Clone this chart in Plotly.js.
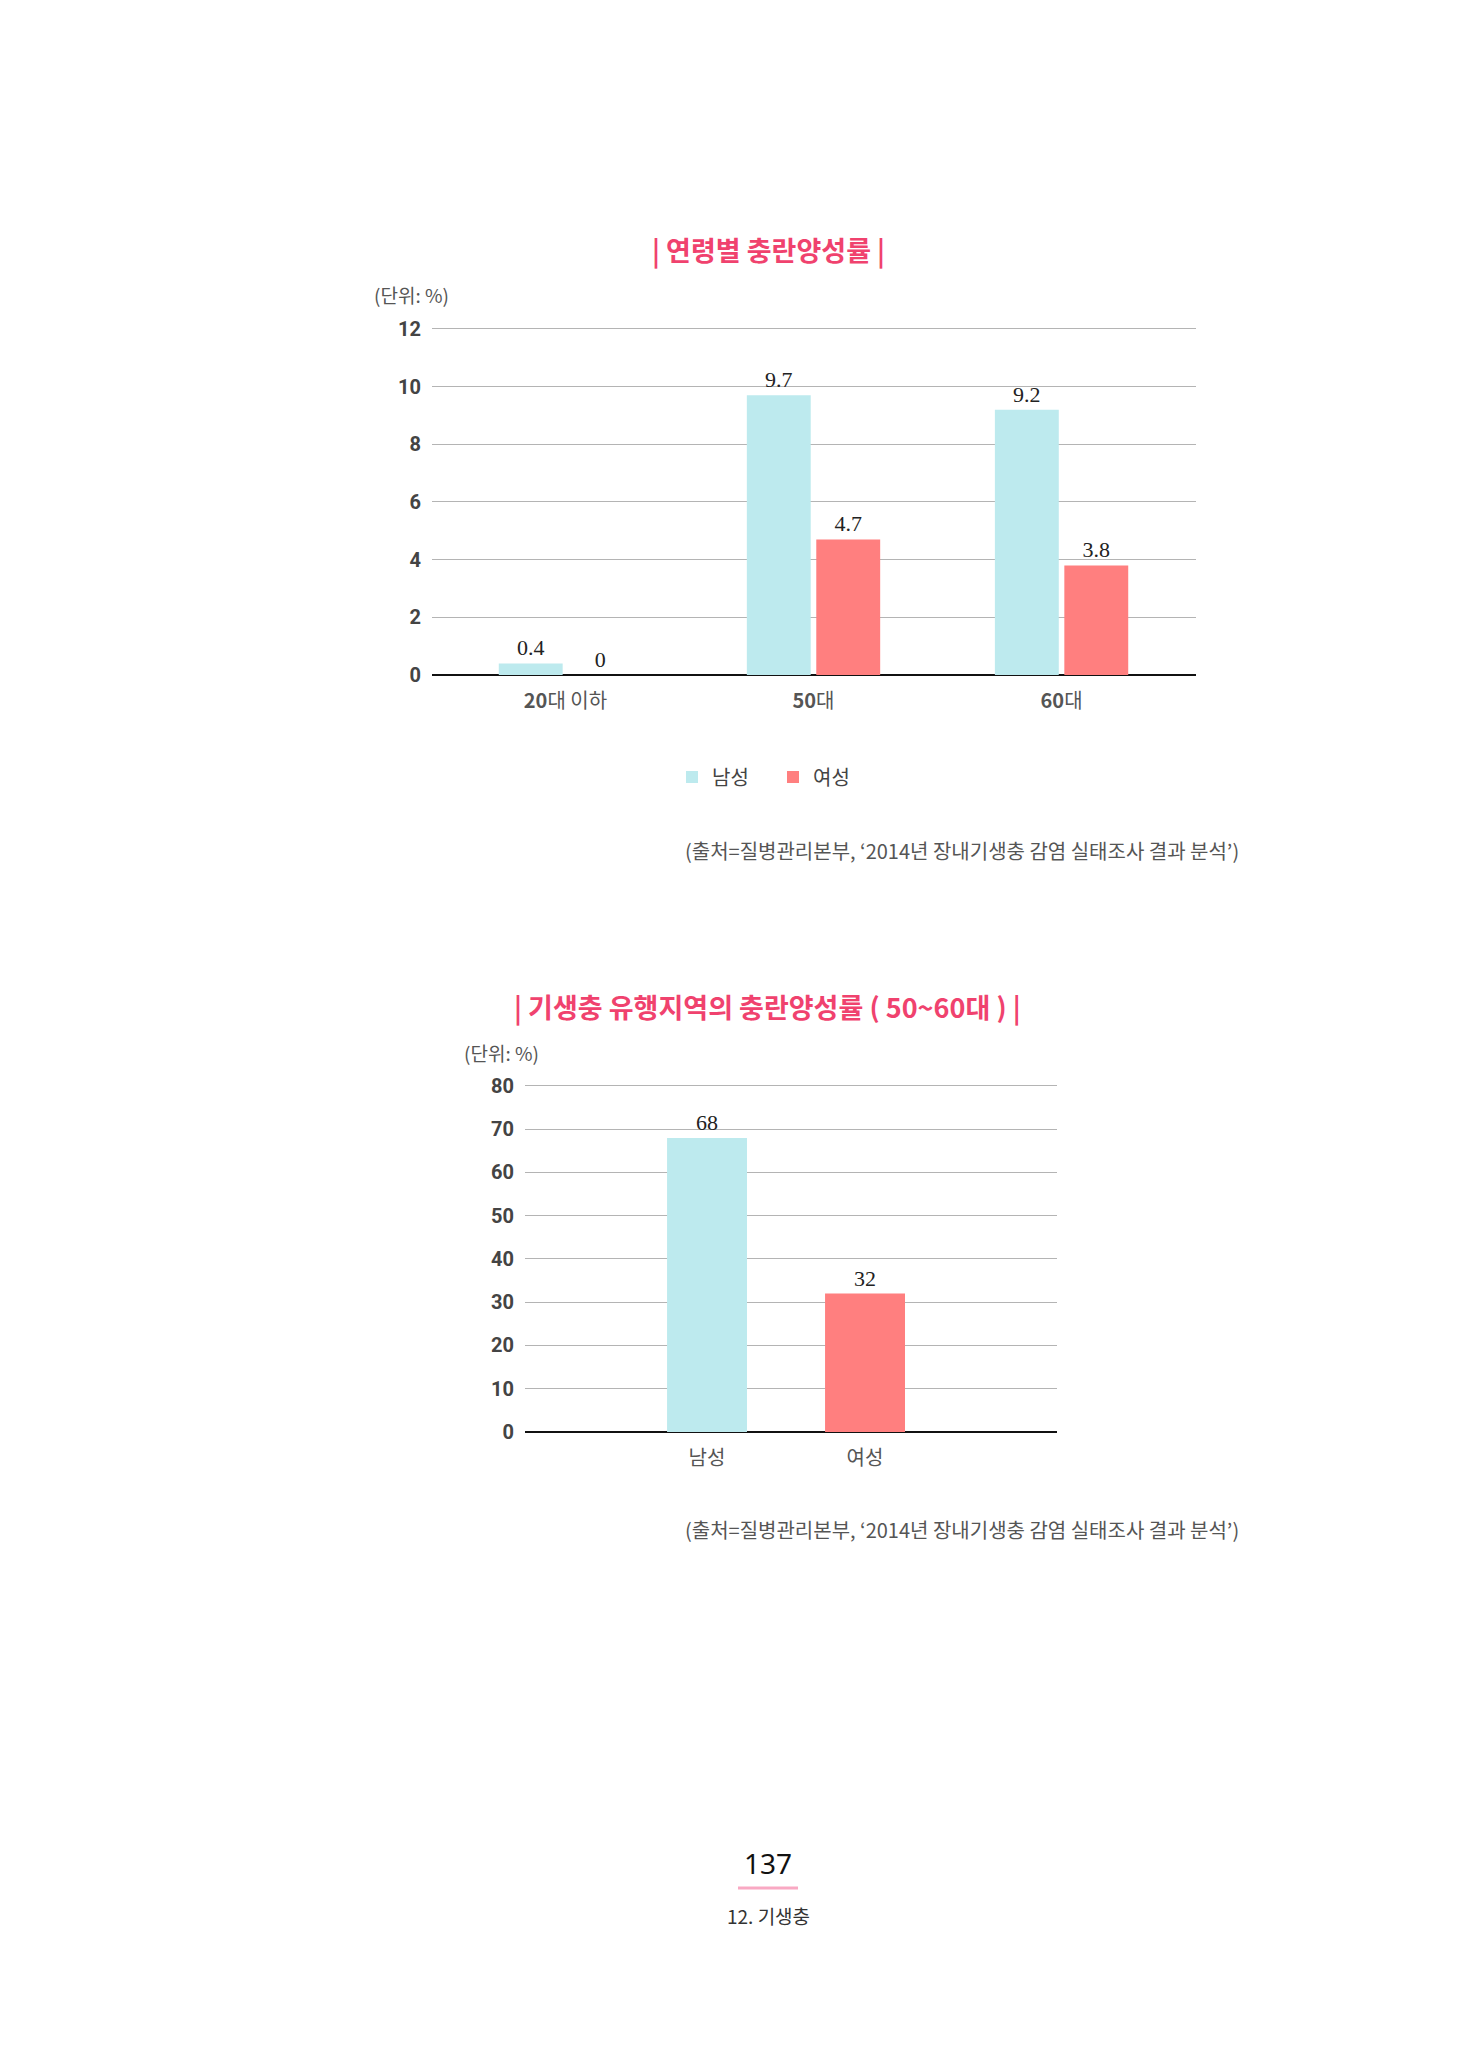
<!DOCTYPE html>
<html>
<head>
<meta charset="utf-8">
<script src="https://cdn.plot.ly/plotly-3.0.1.min.js"></script>
<style>
  html, body { margin: 0; padding: 0; background: #fff; }
  #page { width: 1481px; height: 2071px; }
</style>
</head>
<body>
<div id="page"></div>
<script>
// chart 1: age groups
const ageGroups = ['20대 이하', '50대', '60대'];
const ageTicks = ['<b>20</b>대 이하', '<b>50</b>대', '<b>60</b>대'];
const maleRate = [0.4, 9.7, 9.2];
const femaleRate = [0, 4.7, 3.8];

// chart 2: endemic area, 50~60s
const sexGroups = ['남성', '여성'];
const endemicRate = [68, 32];

const blue = '#BDEAEE';
const red = '#FF7F7F';
const pink = '#F0426E';
const source = '(출처=질병관리본부, ‘2014년 장내기생충 감염 실태조사 결과 분석’)';

// page is 1481 x 2071, helpers turn pixel spots into paper coords
const W = 1481, H = 2071;
const px = (x) => x / W;
const py = (y) => 1 - y / H;

const labelFont = { family: 'Liberation Serif', size: 22, color: '#222' };

var data = [
    {
        x: ageGroups,
        y: maleRate,
        name: '남성',
        type: 'bar',
        marker: { color: blue },
        texttemplate: '%{y}',
        textposition: 'outside',
        textfont: labelFont,
        cliponaxis: false,
        hoverinfo: 'none',
        xaxis: 'x',
        yaxis: 'y'
    },
    {
        x: ageGroups,
        y: femaleRate,
        name: '여성',
        type: 'bar',
        marker: { color: red },
        texttemplate: '%{y}',
        textposition: 'outside',
        textfont: labelFont,
        cliponaxis: false,
        hoverinfo: 'none',
        xaxis: 'x',
        yaxis: 'y'
    },
    {
        x: sexGroups,
        y: endemicRate,
        type: 'bar',
        width: 0.506,
        marker: { color: [blue, red] },
        texttemplate: '%{y}',
        textposition: 'outside',
        textfont: labelFont,
        cliponaxis: false,
        hoverinfo: 'none',
        showlegend: false,
        xaxis: 'x2',
        yaxis: 'y2'
    }
];

const yTickFont = { family: 'Roboto', size: 20, color: '#444', weight: 'bold' };
const xTickFont = { family: 'Noto Sans CJK KR', size: 20, color: '#555' };

// range is padded a hair above the top tick so its gridline still shows
function yAxis(bottom, top, max, dtick) {
    const pad = max * 0.004;
    const topPx = bottom - (bottom - top) * (max + pad) / max;
    return {
        domain: [py(bottom), py(topPx)],
        range: [0, max + pad],
        dtick: dtick,
        showgrid: true,
        gridcolor: '#b4b4b4',
        gridwidth: 1,
        zeroline: true,
        zerolinecolor: '#111',
        zerolinewidth: 2,
        showline: false,
        ticks: '',
        ticklabelstandoff: 10,
        tickfont: yTickFont,
        fixedrange: true
    };
}

var layout = {
    width: W,
    height: H,
    margin: { l: 0, r: 0, t: 0, b: 0 },
    paper_bgcolor: '#fff',
    plot_bgcolor: '#fff',
    font: { family: 'Noto Sans CJK KR', color: '#444' },
    barmode: 'group',
    bargap: 0.44,
    bargroupgap: 0.08,
    showlegend: true,
    legend: {
        orientation: 'h',
        x: px(672),
        y: py(777),
        xanchor: 'left',
        yanchor: 'middle',
        font: { size: 20, color: '#444' },
        entrywidth: 56,
        entrywidthmode: 'pixels'
    },
    xaxis: {
        domain: [px(432), px(1196)],
        range: [-0.538, 2.542],
        tickvals: ageGroups,
        ticktext: ageTicks,
        ticks: '',
        ticklabelstandoff: 12,
        tickfont: xTickFont,
        showgrid: false,
        showline: false,
        anchor: 'y'
    },
    yaxis: yAxis(675, 329, 12, 2),
    xaxis2: {
        domain: [px(525), px(1057)],
        range: [-1.152, 2.215],
        ticks: '',
        ticklabelstandoff: 12,
        tickfont: xTickFont,
        showgrid: false,
        showline: false,
        anchor: 'y2'
    },
    yaxis2: Object.assign(yAxis(1432, 1086, 80, 10), { anchor: 'x2' }),
    annotations: [
        {
            text: '<b>| 연령별 충란양성률 |</b>',
            x: px(768), y: py(250), xref: 'paper', yref: 'paper',
            xanchor: 'center', yanchor: 'middle', showarrow: false,
            font: { size: 27, color: pink }
        },
        {
            text: '(단위: %)',
            x: px(372), y: py(295), xref: 'paper', yref: 'paper',
            xanchor: 'left', yanchor: 'middle', showarrow: false,
            font: { size: 19, color: '#555' }
        },
        {
            text: source,
            x: px(1241), y: py(850), xref: 'paper', yref: 'paper',
            xanchor: 'right', yanchor: 'middle', showarrow: false,
            font: { size: 20, color: '#555' }
        },
        {
            text: '<b>| 기생충 유행지역의 충란양성률 ( 50~60대 ) |</b>',
            x: px(767), y: py(1006), xref: 'paper', yref: 'paper',
            xanchor: 'center', yanchor: 'middle', showarrow: false,
            font: { size: 27, color: pink }
        },
        {
            text: '(단위: %)',
            x: px(462), y: py(1052), xref: 'paper', yref: 'paper',
            xanchor: 'left', yanchor: 'middle', showarrow: false,
            font: { size: 19, color: '#555' }
        },
        {
            text: source,
            x: px(1241), y: py(1529), xref: 'paper', yref: 'paper',
            xanchor: 'right', yanchor: 'middle', showarrow: false,
            font: { size: 20, color: '#555' }
        },
        {
            text: '137',
            x: px(768), y: py(1863), xref: 'paper', yref: 'paper',
            xanchor: 'center', yanchor: 'middle', showarrow: false,
            font: { family: 'Noto Sans', size: 28, color: '#111' }
        },
        {
            text: '12. 기생충',
            x: px(768), y: py(1915), xref: 'paper', yref: 'paper',
            xanchor: 'center', yanchor: 'middle', showarrow: false,
            font: { size: 19, color: '#333' }
        }
    ],
    shapes: [
        {
            type: 'line', xref: 'paper', yref: 'paper',
            x0: px(738), x1: px(798), y0: py(1888), y1: py(1888),
            line: { color: '#F9A9C3', width: 3 }
        }
    ]
};

Plotly.newPlot('page', data, layout, { staticPlot: true });
</script>
</body>
</html>
